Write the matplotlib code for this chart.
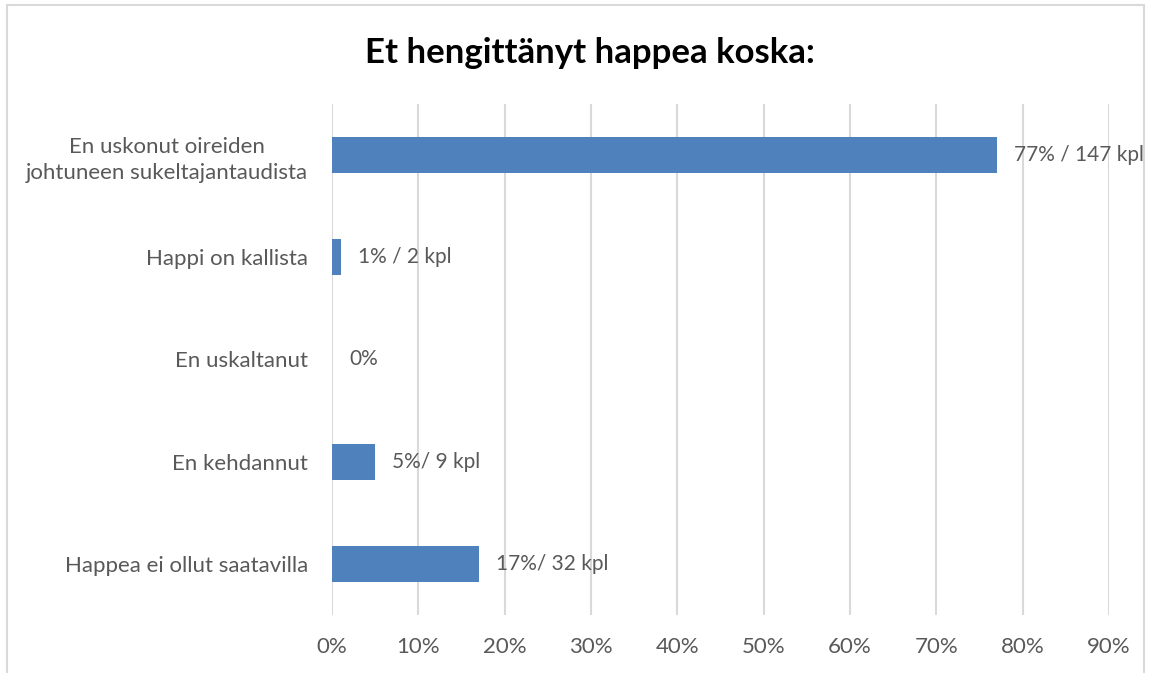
import matplotlib.pyplot as plt
from matplotlib.patches import Rectangle
from matplotlib.ticker import FuncFormatter

categories = ["En uskonut oireiden\njohtuneen sukeltajantaudista",
              "Happi on kallista",
              "En uskaltanut",
              "En kehdannut",
              "Happea ei ollut saatavilla"]
values = [0.77, 0.01, 0.0, 0.05, 0.17]
bar_labels = ["77% / 147 kpl", "1% / 2 kpl", "0%", "5%/ 9 kpl", "17%/ 32 kpl"]

grey = "#595959"
plt.rcParams['font.family'] = ['Lato', 'DejaVu Sans']

fig = plt.figure(figsize=(11.51, 6.73), dpi=100)
ax = fig.add_axes([0.2884, 0.0862, 0.9635 - 0.2884, 0.8455 - 0.0862])

ypos = list(range(len(categories)))
ax.barh(ypos, values, height=0.352, color="#4F81BD", zorder=3)
for y, v, lab in zip(ypos, values, bar_labels):
    ax.annotate(lab, (v, y), xytext=(12.5, 0), textcoords="offset points",
                va="center", ha="left", fontsize=15, color=grey)

ax.set_ylim(len(categories) - 0.5, -0.5)
ax.set_xlim(0, 0.9)
ax.set_xticks([i / 10 for i in range(10)])
ax.xaxis.set_major_formatter(FuncFormatter(lambda x, p: f"{x * 100:.0f}%"))
ax.set_yticks(ypos)
ax.set_yticklabels(categories, fontsize=16, color=grey, linespacing=1.4,
                   multialignment="center")
ax.tick_params(axis="x", labelsize=16, labelcolor=grey, length=0, pad=16)
ax.tick_params(axis="y", length=0, pad=17)
ax.grid(axis="x", color="#D9D9D9", linewidth=1.5, zorder=0)
for s in ax.spines.values():
    s.set_visible(False)

fig.text(590 / 1151, 1 - 53 / 673, "Et hengittänyt happea koska:",
         ha="center", va="center", fontsize=25, fontweight="bold", color="black")

fig.patches.append(Rectangle((7 / 1151, -0.05), 1137 / 1151, 1.05 - 5 / 673,
                             transform=fig.transFigure, fill=False,
                             edgecolor="#D9D9D9", linewidth=1.5))

fig.savefig("out.png", dpi=100)
